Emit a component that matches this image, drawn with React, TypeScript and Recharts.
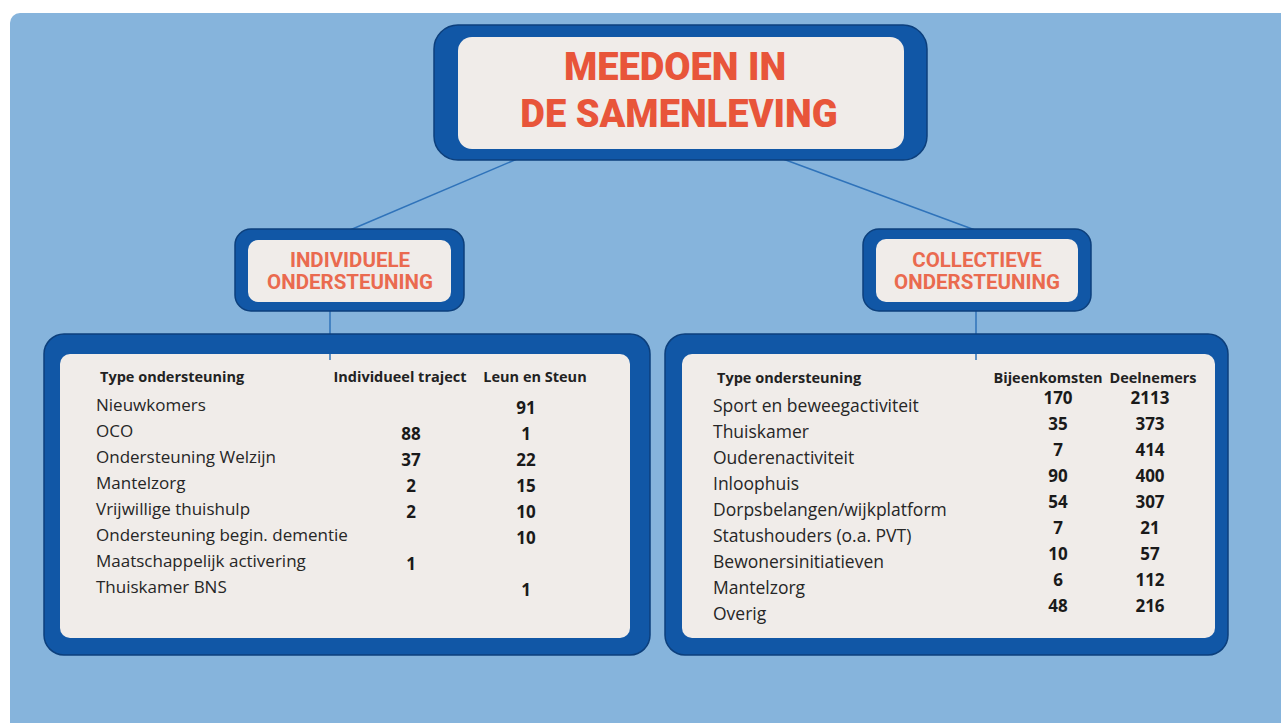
import { ScatterChart, Scatter, XAxis, YAxis, Surface, Rectangle } from 'recharts';

// individuele ondersteuning
const individualTypes = [
  'Nieuwkomers',
  'OCO',
  'Ondersteuning Welzijn',
  'Mantelzorg',
  'Vrijwillige thuishulp',
  'Ondersteuning begin. dementie',
  'Maatschappelijk activering',
  'Thuiskamer BNS',
];
const individueelTraject = [null, 88, 37, 2, 2, null, 1, null];
const leunEnSteun = [91, 1, 22, 15, 10, 10, null, 1];
const individualHeaders = ['Individueel traject', 'Leun en Steun'];

// collectieve ondersteuning
const collectiveTypes = [
  'Sport en beweegactiviteit',
  'Thuiskamer',
  'Ouderenactiviteit',
  'Inloophuis',
  'Dorpsbelangen/wijkplatform',
  'Statushouders (o.a. PVT)',
  'Bewonersinitiatieven',
  'Mantelzorg',
  'Overig',
];
const bijeenkomsten = [170, 35, 7, 90, 54, 7, 10, 6, 48];
const deelnemers = [2113, 373, 414, 400, 307, 21, 57, 112, 216];
const collectiveHeaders = ['Bijeenkomsten', 'Deelnemers'];

const typeHeader = 'Type ondersteuning';

const BLUE = '#1157a6';
const EDGE = '#0c3f7c';
const CREAM = '#f0ece9';
const ORANGE = '#e8553a';
const SUB_ORANGE = '#ea6a4f';
const BG = '#86b4dc';
const LINE = '#2f73ba';
const TEXT_FONT = '"Open Sans", "Noto Sans", sans-serif';
const TITLE_FONT = 'Roboto, "Open Sans", sans-serif';
const HEADER_SIZE = 14.5;

type TableProps = {
  left: number;
  top: number;
  width: number;
  height: number;
  names: string[];
  columns: (number | null)[][];
  headers: string[];
  nameX: number;
  colX: number[];
  headerDx: number[];
  rowTop: number;
  rowStep: number;
  numDy: number;
  nameSize: number;
};

function DataTable(p: TableProps) {
  const n = p.names.length;
  const plotH = (n - 1) * p.rowStep;
  const axisH = 30;
  const headerY = p.rowTop - 23;
  const margin = {
    top: p.rowTop - axisH,
    bottom: p.height - p.rowTop - plotH,
    left: 0,
    right: p.width - p.colX[p.colX.length - 1],
  };
  const series = p.columns.map((vals, c) =>
    vals
      .map((v, i) => ({ row: i, col: c + 1, value: v }))
      .filter((d) => d.value !== null)
  );

  return (
    <div style={{ position: 'absolute', left: p.left, top: p.top }}>
      <ScatterChart width={p.width} height={p.height} margin={margin}>
        <XAxis
          type="number"
          dataKey="col"
          orientation="top"
          height={axisH}
          domain={[1, p.columns.length]}
          ticks={p.columns.map((_, c) => c + 1)}
          axisLine={false}
          tickLine={false}
          tick={(t: any) => (
            <text
              x={t.x + p.headerDx[t.index]}
              y={headerY}
              textAnchor="middle"
              fontFamily={TEXT_FONT}
              fontWeight={700}
              fontSize={HEADER_SIZE}
              fill="#222"
            >
              {p.headers[t.index]}
            </text>
          )}
        />
        <YAxis
          type="number"
          dataKey="row"
          reversed
          width={p.colX[0]}
          domain={[0, n - 1]}
          ticks={p.names.map((_, i) => i)}
          interval={0}
          axisLine={false}
          tickLine={false}
          label={{
            value: typeHeader,
            content: () => (
              <text
                x={p.nameX + 4}
                y={headerY}
                fontFamily={TEXT_FONT}
                fontWeight={700}
                fontSize={HEADER_SIZE}
                fill="#222"
              >
                {typeHeader}
              </text>
            ),
          }}
          tick={(t: any) => (
            <text
              x={p.nameX}
              y={t.y}
              dy="0.35em"
              textAnchor="start"
              fontFamily={TEXT_FONT}
              fontSize={p.nameSize}
              fill="#262626"
            >
              {p.names[t.payload.value]}
            </text>
          )}
        />
        {series.map((data, c) => (
          <Scatter
            key={c}
            data={data}
            isAnimationActive={false}
            shape={(s: any) => (
              <text
                x={s.cx}
                y={s.cy + p.numDy}
                dy="0.35em"
                textAnchor="middle"
                fontFamily={TEXT_FONT}
                fontWeight={700}
                fontSize={17}
                fill="#1a1a1a"
              >
                {s.payload.value}
              </text>
            )}
          />
        ))}
      </ScatterChart>
    </div>
  );
}

function Box(props: { x: number; y: number; w: number; h: number; r: number; pad: [number, number, number, number]; ir: number }) {
  const { x, y, w, h, r, pad, ir } = props;
  return (
    <>
      <Rectangle x={x} y={y} width={w} height={h} radius={r} fill={BLUE} stroke={EDGE} strokeWidth={1.5} />
      <Rectangle
        x={x + pad[0]}
        y={y + pad[1]}
        width={w - pad[0] - pad[2]}
        height={h - pad[1] - pad[3]}
        radius={ir}
        fill={CREAM}
      />
    </>
  );
}

export default function App() {
  return (
    <div style={{ position: 'absolute', left: 0, top: 0, width: 1281, height: 723, overflow: 'hidden', background: '#fff' }}>
      <Surface width={1281} height={723} style={{ position: 'absolute', left: 0, top: 0 }}>
        <Rectangle x={10} y={13} width={1300} height={740} radius={10} fill={BG} />

        <line x1={517} y1={159} x2={350} y2={230} stroke={LINE} strokeWidth={1.5} />
        <line x1={783} y1={159} x2={975} y2={230} stroke={LINE} strokeWidth={1.5} />
        <line x1={330} y1={311} x2={330} y2={360} stroke={LINE} strokeWidth={1.5} />
        <line x1={976} y1={310} x2={976} y2={360} stroke={LINE} strokeWidth={1.5} />

        <Box x={434} y={25} w={493} h={135} r={24} pad={[24, 12, 23, 11]} ir={14} />
        <text x={675} y={67} dy="0.35em" textAnchor="middle" fontFamily={TITLE_FONT} fontWeight={900} fontSize={38} fill={ORANGE}>
          MEEDOEN IN
        </text>
        <text x={679} y={114} dy="0.35em" textAnchor="middle" fontFamily={TITLE_FONT} fontWeight={900} fontSize={38} fill={ORANGE}>
          DE SAMENLEVING
        </text>

        <Box x={235} y={229} w={229} h={82} r={16} pad={[13, 11, 13, 9]} ir={10} />
        <text x={350} y={260} dy="0.35em" textAnchor="middle" fontFamily={TITLE_FONT} fontWeight={700} fontSize={20.5} fill={SUB_ORANGE}>
          INDIVIDUELE
        </text>
        <text x={350} y={282} dy="0.35em" textAnchor="middle" fontFamily={TITLE_FONT} fontWeight={700} fontSize={20.5} fill={SUB_ORANGE}>
          ONDERSTEUNING
        </text>

        <Box x={863} y={229} w={228} h={82} r={16} pad={[13, 10, 13, 9]} ir={10} />
        <text x={977} y={260} dy="0.35em" textAnchor="middle" fontFamily={TITLE_FONT} fontWeight={700} fontSize={20.5} fill={SUB_ORANGE}>
          COLLECTIEVE
        </text>
        <text x={977} y={282} dy="0.35em" textAnchor="middle" fontFamily={TITLE_FONT} fontWeight={700} fontSize={20.5} fill={SUB_ORANGE}>
          ONDERSTEUNING
        </text>

        <Box x={44} y={334} w={606} h={321} r={20} pad={[16, 20, 20, 17]} ir={10} />
        <Box x={665} y={334} w={563} h={321} r={20} pad={[17, 20, 13, 17]} ir={10} />
        <line x1={330} y1={354} x2={330} y2={360} stroke={LINE} strokeWidth={1.5} />
        <line x1={976} y1={354} x2={976} y2={360} stroke={LINE} strokeWidth={1.5} />
      </Surface>

      <DataTable
        left={60}
        top={354}
        width={570}
        height={284}
        names={individualTypes}
        columns={[individueelTraject, leunEnSteun]}
        headers={individualHeaders}
        nameX={36}
        colX={[351, 466]}
        headerDx={[-11, 9]}
        rowTop={51}
        rowStep={26}
        numDy={3}
        nameSize={17}
      />
      <DataTable
        left={682}
        top={354}
        width={533}
        height={284}
        names={collectiveTypes}
        columns={[bijeenkomsten, deelnemers]}
        headers={collectiveHeaders}
        nameX={31}
        colX={[376, 468]}
        headerDx={[-10, 3]}
        rowTop={52}
        rowStep={26}
        numDy={-8}
        nameSize={17.5}
      />
    </div>
  );
}
